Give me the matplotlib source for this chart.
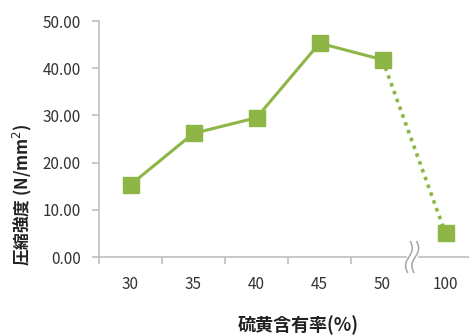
import matplotlib.pyplot as plt
import numpy as np

plt.rcParams['font.family'] = ['Noto Sans CJK JP', 'DejaVu Sans']

# 硫黄含有率と圧縮強度
categorias = ['30', '35', '40', '45', '50', '100']
resistencia = [15.3, 26.2, 29.5, 45.3, 41.8, 5.0]
ticks_y = [0, 10, 20, 30, 40, 50]

verde = '#8db646'
gris = '#bfbfbf'

fig = plt.figure(figsize=(4.69, 3.35), dpi=100)
ax = fig.add_axes([99 / 469, 78 / 335, 370 / 469, 236 / 335])

x = np.arange(len(categorias))
# tramo continuo 30-50 y tramo punteado 50-100
ax.plot(x[:5], resistencia[:5], color=verde, lw=2.2, zorder=3)
ax.plot(x[4:], resistencia[4:], color=verde, lw=2.6, ls=(0, (1, 1.3)), zorder=3)
ax.plot(x, resistencia, ls='none', marker='s', ms=11, color=verde, zorder=4)

ax.set_xlim(-0.5, -0.5 + 370 / 63)
ax.set_ylim(0, 50)
ax.set_yticks(ticks_y)
ax.set_yticklabels(['%.2f' % v for v in ticks_y])
ax.set_xticks(x)
ax.set_xticklabels(categorias)
ax.set_xticks(np.arange(-0.5, 4.0, 1.0), minor=True)

for lado in ['top', 'right']:
    ax.spines[lado].set_visible(False)
ax.spines['left'].set_color(gris)
ax.spines['bottom'].set_color(gris)
ax.spines['left'].set_linewidth(1.2)
ax.spines['bottom'].set_linewidth(1.2)

ax.tick_params(axis='y', colors=gris, labelcolor='#333333', labelsize=11,
               length=5, width=1.2, pad=8)
ax.tick_params(axis='x', which='major', length=0, labelcolor='#333333',
               labelsize=11, pad=14)
ax.tick_params(axis='x', which='minor', colors=gris, length=5, width=1.2)

# corte del eje entre 50 y 100 (dos curvas en S)
xb = 4.47
trans = ax.get_xaxis_transform()
ax.fill_between([xb - 0.08, xb + 0.08], -0.03, 0.03, color='white',
                transform=trans, clip_on=False, zorder=5)
t = np.linspace(0, 1, 40)
for dx in (-0.05, 0.05):
    xs = xb + dx + 0.04 * np.sin(2 * np.pi * t) - 0.05 * (t - 0.5)
    ys = 0.065 - 0.13 * t
    ax.plot(xs, ys, color='#a6a6a6', lw=1.1, transform=trans, clip_on=False,
            zorder=6)

fig.text(22 / 469, 140 / 335, '圧縮強度 (N/mm$^2$)', rotation=90, ha='center',
         va='center', fontsize=12, fontweight='bold', color='#222222')
fig.text(298 / 469, 10 / 335, '硫黄含有率(%)', ha='center', va='center',
         fontsize=13, fontweight='bold', color='#222222')

fig.savefig('out.png', dpi=100)
